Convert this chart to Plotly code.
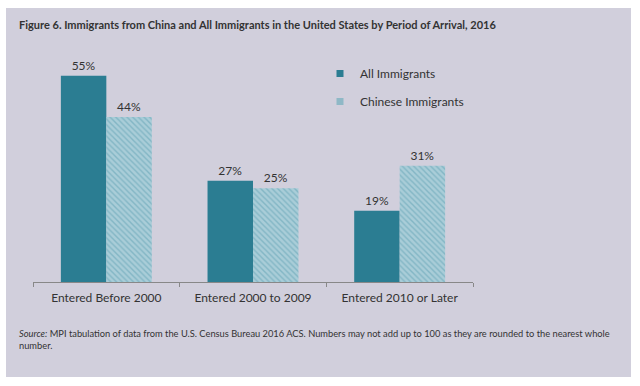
import plotly.graph_objects as go

categories = ["Entered Before 2000", "Entered 2000 to 2009", "Entered 2010 or Later"]
all_immigrants = [55, 27, 19]
chinese_immigrants = [44, 25, 31]
series_names = ["All Immigrants", "Chinese Immigrants"]

title_text = "Figure 6. Immigrants from China and All Immigrants in the United States by Period of Arrival, 2016"
source_text = ("<i>Source:</i> MPI tabulation of data from the U.S. Census Bureau 2016 ACS. Numbers may not add up to 100 as they are rounded to the nearest whole"
               "<br>number.")

FONT = "Lato"
TXT = "#333333"
BOX = "#d1cfdc"
C_ALL = "#2b7d92"
C_CHN_BG = "#a9cdd8"
C_CHN_FG = "#5d9fb2"

fig = go.Figure()
fig.add_trace(go.Bar(
    x=categories, y=all_immigrants, name=series_names[0], showlegend=False,
    marker=dict(color=C_ALL, line=dict(width=0)),
    text=[f"{v}%" for v in all_immigrants], textposition="outside",
    textfont=dict(family=FONT, size=12, color=TXT), cliponaxis=False,
))
fig.add_trace(go.Bar(
    x=categories, y=chinese_immigrants, name=series_names[1], showlegend=False,
    marker=dict(color=C_CHN_BG, line=dict(width=0),
                pattern=dict(shape="\\", fgcolor=C_CHN_FG, bgcolor=C_CHN_BG, size=4, solidity=0.35)),
    text=[f"{v}%" for v in chinese_immigrants], textposition="outside",
    textfont=dict(family=FONT, size=12, color=TXT), cliponaxis=False,
))
# legend entries (small square markers like the reference)
fig.add_trace(go.Scatter(x=[None], y=[None], mode="markers", name=series_names[0],
                         legendgroup="a",
                         marker=dict(symbol="square", size=7, color=C_ALL)))
fig.add_trace(go.Scatter(x=[None], y=[None], mode="markers", name=series_names[1],
                         legendgroup="b",
                         marker=dict(symbol="square", size=7, color="#8fb8c6")))

L, R, T, B = 33, 167, 57, 104
pw = 640 - L - R
ph = 386 - T - B

def px_x(p):
    return (p - L) / pw

def px_y(p):
    return (386 - B - p) / ph

fig.add_shape(type="rect", xref="paper", yref="paper", layer="below",
              x0=px_x(6), x1=px_x(631), y0=px_y(377), y1=px_y(8),
              fillcolor=BOX, line=dict(width=0))

fig.add_annotation(xref="paper", yref="paper", x=px_x(17), y=px_y(25),
                   xanchor="left", yanchor="middle", showarrow=False,
                   text="<b>" + title_text + "</b>",
                   font=dict(family=FONT, size=11, color=TXT))
fig.add_annotation(xref="paper", yref="paper", x=px_x(17), y=px_y(339),
                   xanchor="left", yanchor="middle", showarrow=False, align="left",
                   text=source_text,
                   font=dict(family=FONT, size=9.3, color=TXT))

fig.update_layout(
    width=640, height=386,
    margin=dict(l=L, r=R, t=T, b=B, autoexpand=False),
    paper_bgcolor="white", plot_bgcolor="rgba(0,0,0,0)",
    barmode="group", bargap=0.38, bargroupgap=0,
    font=dict(family=FONT, color=TXT),
    showlegend=True,
    legend=dict(x=px_x(320), y=px_y(59), xanchor="left", yanchor="top",
                bgcolor="rgba(0,0,0,0)", font=dict(family=FONT, size=12, color=TXT),
                tracegroupgap=9, itemwidth=30, traceorder="grouped"),
    xaxis=dict(showline=True, linecolor="#888888", linewidth=1,
               ticks="outside", tickson="boundaries", ticklen=4, tickcolor="#888888",
               ticklabelstandoff=5,
               tickfont=dict(family=FONT, size=12, color=TXT), showgrid=False),
    yaxis=dict(range=[0, 60], visible=False, showgrid=False),
)

fig.write_html("out.html", config={"displayModeBar": False},
               post_script="document.body.style.margin='0';document.body.style.padding='0';")
